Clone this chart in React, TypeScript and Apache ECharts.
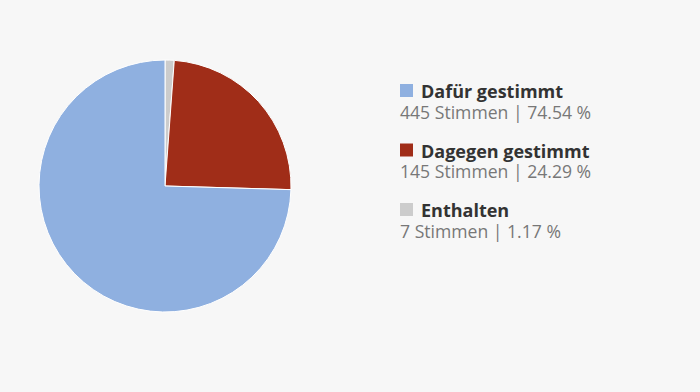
import React, { useEffect, useRef } from "react";
import * as echarts from "echarts";

const categories = ["Dafür gestimmt", "Dagegen gestimmt", "Enthalten"];
const votes = [445, 145, 7];
const colors = ["#8fb0e0", "#a02d18", "#cccccc"];

export default function App() {
  const ref = useRef<HTMLDivElement>(null);
  useEffect(() => {
    if (!ref.current) return;
    const chart = echarts.init(ref.current, null, { renderer: "svg" });
    const total = votes.reduce((a, b) => a + b, 0);
    // pie drawn clockwise from top: Enthalten, Dagegen, Dafür
    const order = [2, 1, 0];
    const font = "'Open Sans', 'Noto Sans', sans-serif";
    const legendX = 400;
    const legendY0 = 91;
    const rowGap = 59.5;
    const graphics: any[] = [];
    categories.forEach((c, i) => {
      const y = legendY0 + i * rowGap;
      graphics.push({
        type: "rect",
        left: legendX,
        top: y - 7,
        shape: { width: 13, height: 13 },
        style: { fill: colors[i] },
      });
      graphics.push({
        type: "text",
        x: 421,
        y: y,
        style: {
          text: c,
          fill: "#333333",
          font: `bold 18px ${font}`,
          lineHeight: 18,
          verticalAlign: "middle",
        },
      });
      graphics.push({
        type: "text",
        x: legendX,
        y: y + 20.5,
        style: {
          text: `${votes[i]} Stimmen | ${((votes[i] / total) * 100).toFixed(2)} %`,
          fill: "#777777",
          font: `17.6px ${font}`,
          lineHeight: 18,
          verticalAlign: "middle",
        },
      });
    });
    chart.setOption({
      animation: false,
      backgroundColor: "#f7f7f7",
      graphic: graphics,
      series: [
        {
          type: "pie",
          center: [165, 186],
          radius: 126,
          startAngle: 90,
          clockwise: true,
          label: { show: false },
          labelLine: { show: false },
          emphasis: { disabled: true },
          itemStyle: { borderColor: "#ffffff", borderWidth: 1 },
          data: order.map((i) => ({
            name: categories[i],
            value: votes[i],
            itemStyle: { color: colors[i] },
          })),
        },
      ],
    });
    return () => chart.dispose();
  }, []);
  return (
    <div
      ref={ref}
      style={{ position: "absolute", left: 0, top: 0, width: 700, height: 392 }}
    />
  );
}
